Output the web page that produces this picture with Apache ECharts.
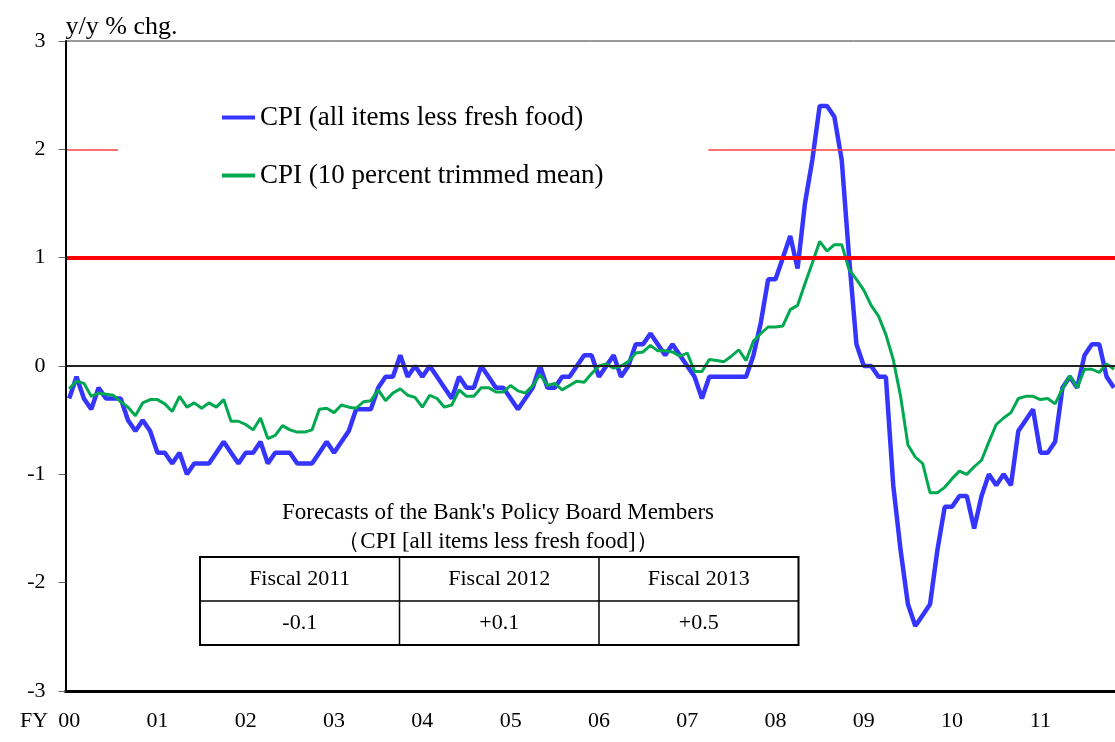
<!DOCTYPE html>
<html>
<head>
<meta charset="utf-8">
<script src="https://cdn.jsdelivr.net/npm/echarts@6/dist/echarts.min.js"></script>
<style>
  html, body { margin: 0; padding: 0; background: #fff; }
  #main { width: 1115px; height: 742px; }
</style>
</head>
<body>
<div id="main"></div>
<script>
// year labels (calendar year ticks), one category per month from Jan 2000
var yearLabels = ['00', '01', '02', '03', '04', '05', '06', '07', '08', '09', '10', '11'];
var months = [];
yearLabels.forEach(function (y) {
  for (var m = 1; m <= 12; m++) months.push(y + '-' + m);
});

// CPI (all items less fresh food), y/y % chg.
var cpiCore = [
  -0.3, -0.1, -0.3, -0.4, -0.2, -0.3, -0.3, -0.3, -0.5, -0.6, -0.5, -0.6,
  -0.8, -0.8, -0.9, -0.8, -1.0, -0.9, -0.9, -0.9, -0.8, -0.7, -0.8, -0.9,
  -0.8, -0.8, -0.7, -0.9, -0.8, -0.8, -0.8, -0.9, -0.9, -0.9, -0.8, -0.7,
  -0.8, -0.7, -0.6, -0.4, -0.4, -0.4, -0.2, -0.1, -0.1, 0.1, -0.1, 0.0,
  -0.1, 0.0, -0.1, -0.2, -0.3, -0.1, -0.2, -0.2, 0.0, -0.1, -0.2, -0.2,
  -0.3, -0.4, -0.3, -0.2, 0.0, -0.2, -0.2, -0.1, -0.1, 0.0, 0.1, 0.1,
  -0.1, 0.0, 0.1, -0.1, 0.0, 0.2, 0.2, 0.3, 0.2, 0.1, 0.2, 0.1,
  0.0, -0.1, -0.3, -0.1, -0.1, -0.1, -0.1, -0.1, -0.1, 0.1, 0.4, 0.8,
  0.8, 1.0, 1.2, 0.9, 1.5, 1.9, 2.4, 2.4, 2.3, 1.9, 1.0, 0.2,
  0.0, 0.0, -0.1, -0.1, -1.1, -1.7, -2.2, -2.4, -2.3, -2.2, -1.7, -1.3,
  -1.3, -1.2, -1.2, -1.5, -1.2, -1.0, -1.1, -1.0, -1.1, -0.6, -0.5, -0.4,
  -0.8, -0.8, -0.7, -0.2, -0.1, -0.2, 0.1, 0.2, 0.2, -0.1, -0.2
];

// CPI (10 percent trimmed mean), y/y % chg.
var cpiTrimmed = [
  -0.21, -0.14, -0.16, -0.28, -0.25, -0.26, -0.27, -0.33, -0.38, -0.46, -0.34, -0.31,
  -0.31, -0.35, -0.42, -0.28, -0.38, -0.34, -0.39, -0.34, -0.38, -0.31, -0.51, -0.51,
  -0.54, -0.59, -0.48, -0.67, -0.64, -0.55, -0.59, -0.61, -0.61, -0.59, -0.40, -0.39,
  -0.43, -0.36, -0.38, -0.39, -0.33, -0.32, -0.22, -0.32, -0.25, -0.21, -0.27, -0.29,
  -0.38, -0.27, -0.30, -0.38, -0.36, -0.22, -0.28, -0.28, -0.20, -0.20, -0.24, -0.24,
  -0.18, -0.23, -0.25, -0.18, -0.08, -0.18, -0.16, -0.22, -0.18, -0.14, -0.15, -0.07,
  0.00, 0.02, -0.02, 0.00, 0.04, 0.12, 0.13, 0.19, 0.14, 0.14, 0.13, 0.09,
  0.12, -0.05, -0.05, 0.06, 0.05, 0.04, 0.09, 0.15, 0.05, 0.23, 0.30, 0.36,
  0.36, 0.37, 0.52, 0.56, 0.76, 0.95, 1.15, 1.06, 1.12, 1.12, 0.89, 0.80,
  0.70, 0.56, 0.46, 0.29, 0.06, -0.28, -0.73, -0.84, -0.90, -1.17, -1.17, -1.12,
  -1.04, -0.97, -1.00, -0.93, -0.87, -0.70, -0.54, -0.48, -0.43, -0.30, -0.28, -0.28,
  -0.31, -0.30, -0.35, -0.21, -0.09, -0.20, -0.03, -0.03, -0.06, 0.02, -0.03
];

var forecastYears = ['Fiscal 2011', 'Fiscal 2012', 'Fiscal 2013'];
var forecastValues = ['-0.1', '+0.1', '+0.5'];

var serif = 'Liberation Serif, Times New Roman, serif';

// forecast table drawn as graphic elements
var tableX = 200, tableY = 557, colW = 199.5, rowH = 44;
var tableItems = [
  { type: 'text', x: 498, y: 513, style: { text: "Forecasts of the Bank's Policy Board Members", font: '23px ' + serif, fill: '#000', align: 'center', verticalAlign: 'middle' } },
  { type: 'text', x: 498, y: 542, style: { text: '（CPI [all items less fresh food]）', font: '23px ' + serif, fill: '#000', align: 'center', verticalAlign: 'middle' } },
  { type: 'rect', shape: { x: tableX, y: tableY, width: colW * 3, height: rowH * 2 }, style: { fill: '#fff', stroke: '#000', lineWidth: 2 } },
  { type: 'line', shape: { x1: tableX, y1: tableY + rowH, x2: tableX + colW * 3, y2: tableY + rowH }, style: { stroke: '#000', lineWidth: 1.5 } }
];
for (var c = 0; c < forecastYears.length; c++) {
  if (c > 0) {
    tableItems.push({ type: 'line', shape: { x1: tableX + colW * c, y1: tableY, x2: tableX + colW * c, y2: tableY + rowH * 2 }, style: { stroke: '#000', lineWidth: 1.5 } });
  }
  tableItems.push({ type: 'text', x: tableX + colW * (c + 0.5), y: tableY + rowH * 0.5, style: { text: forecastYears[c], font: '22px ' + serif, fill: '#000', align: 'center', verticalAlign: 'middle' } });
  tableItems.push({ type: 'text', x: tableX + colW * (c + 0.5), y: tableY + rowH * 1.5, style: { text: forecastValues[c], font: '22px ' + serif, fill: '#000', align: 'center', verticalAlign: 'middle' } });
}
tableItems.push({ type: 'text', x: 20, y: 721, style: { text: 'FY', font: '22px ' + serif, fill: '#000', align: 'left', verticalAlign: 'middle' } });

var chart = echarts.init(document.getElementById('main'));
chart.setOption({
  animation: false,
  backgroundColor: '#fff',
  // plot runs past the right edge of the picture (through Dec 2011)
  grid: {
    left: 65.5, top: 41, width: 1059.5, height: 650,
    outerBoundsMode: 'none', containLabel: false,
    show: true, borderColor: '#333', borderWidth: 1
  },
  legend: {
    orient: 'vertical',
    left: 118,
    top: 94,
    z: 10,
    padding: [10, 105, 10, 104],
    backgroundColor: '#fff',
    itemGap: 31,
    itemWidth: 33,
    itemHeight: 4,
    icon: 'rect',
    textStyle: { fontFamily: serif, fontSize: 27, color: '#000' },
    data: ['CPI (all items less fresh food)', 'CPI (10 percent trimmed mean)']
  },
  xAxis: {
    type: 'category',
    data: months,
    boundaryGap: true,
    z: 5,
    axisLine: { onZero: false, lineStyle: { color: '#000', width: 3 } },
    axisTick: { interval: 11, length: 6, lineStyle: { color: '#666' } },
    axisLabel: {
      interval: 11, margin: 19, fontFamily: serif, fontSize: 22, color: '#000',
      formatter: function (v) { return v.split('-')[0]; }
    },
    splitLine: { show: false }
  },
  yAxis: {
    type: 'value',
    min: -3, max: 3, interval: 1,
    z: 5,
    name: 'y/y % chg.',
    nameLocation: 'end',
    nameGap: 1,
    nameTextStyle: { align: 'left', fontFamily: serif, fontSize: 26, color: '#000' },
    axisLine: { show: true, onZero: false, lineStyle: { color: '#000', width: 2 } },
    axisTick: { show: true, length: 7, lineStyle: { color: '#666' } },
    axisLabel: { margin: 20, fontFamily: serif, fontSize: 22, color: '#000' },
    splitLine: { show: false }
  },
  series: [
    {
      name: 'CPI (all items less fresh food)',
      type: 'line',
      data: cpiCore,
      showSymbol: false,
      z: 2,
      color: '#3535FF',
      lineStyle: { color: '#3535FF', width: 4.5 }
    },
    {
      name: 'CPI (10 percent trimmed mean)',
      type: 'line',
      data: cpiTrimmed,
      showSymbol: false,
      z: 2,
      color: '#00A850',
      lineStyle: { color: '#00A850', width: 3 }
    },
    {
      // reference lines above the data lines, below the legend box
      name: 'ref',
      type: 'line',
      data: [],
      z: 3,
      markLine: {
        silent: true, symbol: 'none', label: { show: false }, z: 3,
        data: [
          { yAxis: 0, lineStyle: { color: '#222', width: 2, type: 'solid' } },
          { yAxis: 1, lineStyle: { color: '#FF0000', width: 4, type: 'solid' } },
          { yAxis: 2, lineStyle: { color: '#FF4040', width: 1.5, type: 'solid' } }
        ]
      }
    }
  ],
  graphic: tableItems
});
</script>
</body>
</html>
